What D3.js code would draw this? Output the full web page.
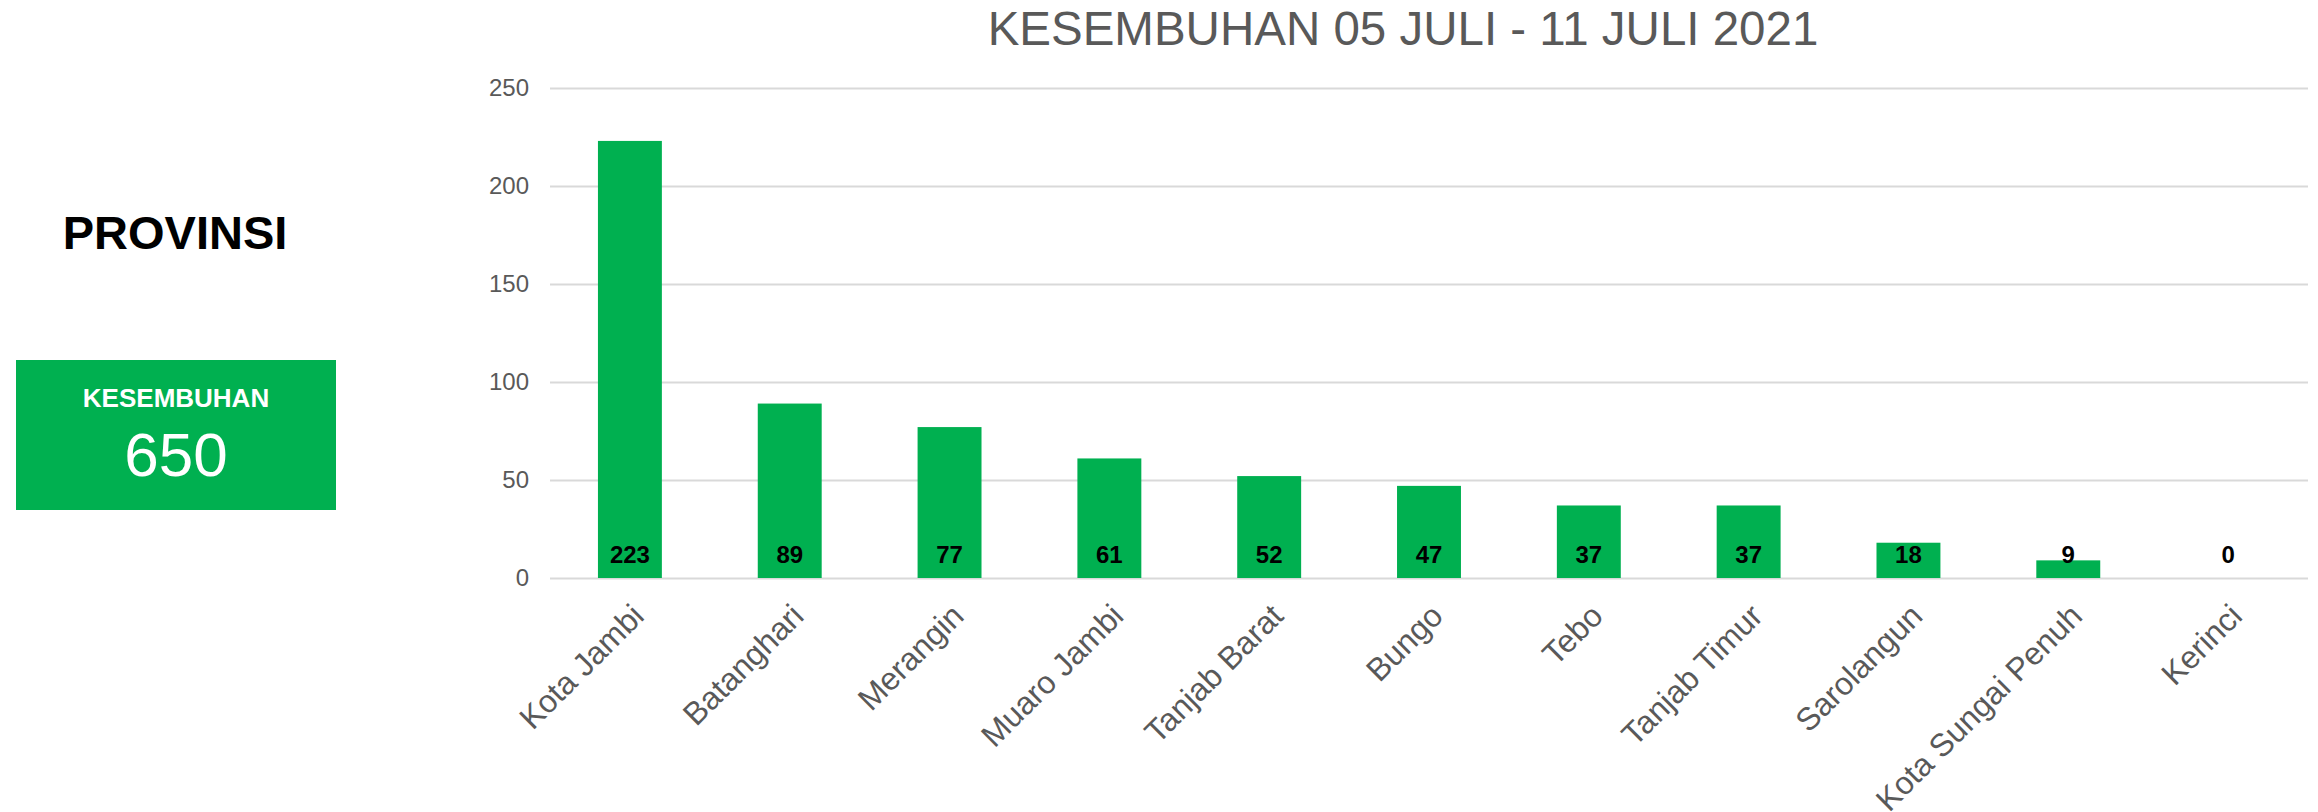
<!DOCTYPE html>
<html>
<head>
<meta charset="utf-8">
<script src="https://cdn.jsdelivr.net/npm/d3@7"></script>
<style>
  body { margin: 0; background: #fff; }
  text { font-family: "Liberation Sans", Arial, sans-serif; }
</style>
</head>
<body>
<div id="chart"></div>
<script>
// data
var categories = ["Kota Jambi", "Batanghari", "Merangin", "Muaro Jambi", "Tanjab Barat",
  "Bungo", "Tebo", "Tanjab  Timur", "Sarolangun", "Kota Sungai Penuh", "Kerinci"];
var values = [223, 89, 77, 61, 52, 47, 37, 37, 18, 9, 0];
var yTicks = [0, 50, 100, 150, 200, 250];
var chartTitle = "KESEMBUHAN 05 JULI - 11 JULI 2021";
var panelTitle = "PROVINSI";
var boxLabel = "KESEMBUHAN";
var boxValue = 650;

document.addEventListener("DOMContentLoaded", function() {
    var W = 2318, H = 812;
    var green = "#00B050", grey = "#595959";

    var svg = d3.select("#chart").append("svg")
        .attr("width", W)
        .attr("height", H);

    svg.append("rect").attr("width", W).attr("height", H).attr("fill", "#fff");

    // left panel
    svg.append("text")
        .attr("x", 175).attr("y", 249)
        .attr("text-anchor", "middle")
        .attr("font-size", 47).attr("font-weight", "bold")
        .attr("fill", "#000")
        .text(panelTitle);

    svg.append("rect")
        .attr("x", 16).attr("y", 360)
        .attr("width", 320).attr("height", 150)
        .attr("fill", green);

    svg.append("text")
        .attr("x", 176).attr("y", 407)
        .attr("text-anchor", "middle")
        .attr("font-size", 26).attr("font-weight", "bold")
        .attr("fill", "#fff")
        .text(boxLabel);

    svg.append("text")
        .attr("x", 176).attr("y", 476)
        .attr("text-anchor", "middle")
        .attr("font-size", 62)
        .attr("fill", "#fff")
        .text(boxValue);

    // scales
    var x = d3.scaleBand()
        .domain(categories)
        .range([550, 2308])
        .paddingInner(0.6)
        .paddingOuter(0.3);

    var y = d3.scaleLinear()
        .domain([0, 250])
        .range([578, 88]);

    // title
    svg.append("text")
        .attr("x", 1403).attr("y", 45)
        .attr("text-anchor", "middle")
        .attr("font-size", 47.5)
        .attr("fill", grey)
        .text(chartTitle);

    // y axis + gridlines
    var yAxis = svg.append("g")
        .attr("transform", "translate(550,0)")
        .call(d3.axisLeft(y).tickValues(yTicks).tickSize(-(2308 - 550)).tickPadding(21));
    yAxis.select(".domain").remove();
    yAxis.selectAll(".tick line")
        .attr("stroke", "#d9d9d9")
        .attr("stroke-width", 2);
    yAxis.selectAll(".tick text")
        .attr("font-size", 24)
        .attr("font-family", "Liberation Sans, Arial, sans-serif")
        .attr("fill", grey);

    // bars
    svg.selectAll(".bar")
        .data(values)
        .enter().append("rect")
        .attr("class", "bar")
        .attr("x", function(d, i) { return x(categories[i]); })
        .attr("y", function(d) { return y(d); })
        .attr("width", x.bandwidth())
        .attr("height", function(d) { return y(0) - y(d); })
        .attr("fill", green);

    // value labels
    svg.selectAll(".val")
        .data(values)
        .enter().append("text")
        .attr("class", "val")
        .attr("x", function(d, i) { return x(categories[i]) + x.bandwidth() / 2; })
        .attr("y", y(0) - 15)
        .attr("text-anchor", "middle")
        .attr("font-size", 24).attr("font-weight", "bold")
        .attr("fill", "#000")
        .text(function(d) { return d; });

    // x labels
    svg.selectAll(".xlab")
        .data(categories)
        .enter().append("text")
        .attr("class", "xlab")
        .attr("transform", function(d) {
            return "translate(" + (x(d) + x.bandwidth() / 2 + 8) + "," + (y(0) + 32) + ") rotate(-45)";
        })
        .attr("text-anchor", "end")
        .attr("dy", "0.35em")
        .attr("font-size", 32)
        .attr("fill", grey)
        .text(function(d) { return d; });
});
</script>
</body>
</html>
